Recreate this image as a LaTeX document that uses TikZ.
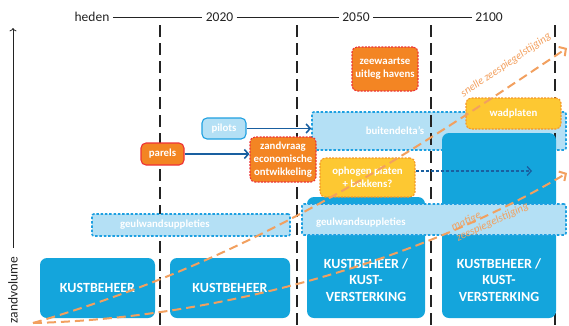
\documentclass[tikz,border=0pt]{standalone}
\usepackage{fontspec}
\setmainfont{Carlito}
\usetikzlibrary{arrows.meta}
\definecolor{kustblauw}{RGB}{20,165,220}
\definecolor{lichtblauw}{RGB}{180,224,245}
\definecolor{randblauw}{RGB}{30,160,225}
\definecolor{oranje}{RGB}{243,133,35}
\definecolor{rood}{RGB}{237,50,55}
\definecolor{geel}{RGB}{253,200,50}
\definecolor{geelrand}{RGB}{245,150,40}
\definecolor{zeeoranje}{RGB}{242,160,95}
\definecolor{donkerblauw}{RGB}{25,95,160}
\definecolor{lijngrijs}{RGB}{35,35,35}
\tikzset{
  jaartal/.style={font=\fontsize{13.5}{16}\selectfont, text=lijngrijs},
  tijdas/.style={draw=lijngrijs, line width=0.8pt},
  tijdgrens/.style={draw=lijngrijs, line width=1.2pt, dash pattern=on 12pt off 6pt},
  kustbox/.style={fill=kustblauw, rounded corners=7pt, text=white, font=\fontsize{14}{16.5}\selectfont\bfseries, align=center},
  kusttekst/.style={text=white, font=\fontsize{14}{16.5}\selectfont\bfseries, align=center},
  band/.style={fill=lichtblauw, draw=randblauw, line width=1.6pt, dash pattern=on 2.5pt off 1.8pt, rounded corners=2pt},
  bandtekst/.style={text=white, font=\fontsize{10.8}{13}\selectfont\bfseries},
  kleinbox/.style={rounded corners=5pt, line width=1.1pt, text=white, align=center, inner sep=2pt, font=\fontsize{10.8}{13}\selectfont\bfseries},
  oranjebox/.style={kleinbox, fill=oranje, draw=rood},
  geelbox/.style={kleinbox, fill=geel, draw=geelrand, dash pattern=on 2pt off 1.3pt},
  blauwbox/.style={kleinbox, fill=lichtblauw, draw=randblauw},
  gestippeld/.style={dash pattern=on 2pt off 1.3pt},
  pijl/.style={draw=donkerblauw, line width=1.6pt, -{Straight Barb[length=4pt,width=9pt]}},
  stijging/.style={draw=zeeoranje, line width=2pt, dash pattern=on 9pt off 5pt, -{Straight Barb[length=5pt,width=11pt]}},
  stijgtekst/.style={text=zeeoranje, font=\fontsize{11}{12}\selectfont\itshape}
}
\begin{document}
\begin{tikzpicture}[x=1pt, y=-1pt]
\useasboundingbox (0,0) rectangle (569,325);

\node[jaartal] (heden) at (92,17) {heden};
\node[jaartal] (j2020) at (219.5,17) {2020};
\node[jaartal] (j2050) at (356,17) {2050};
\node[jaartal] (j2100) at (489,17) {2100};
\draw[tijdas] (heden) -- (j2020);
\draw[tijdas] (j2020) -- (j2050);
\draw[tijdas] (j2050) -- (j2100);

\node[band, minimum width=254, minimum height=38] (bd) at (439,131) {};
\node[bandtekst] (bdtekst) at (395,131) {buitendelta's};

\foreach \x in {160,297,431,555}
  \draw[tijdgrens] (\x,25) -- (\x,325);

\node[rotate=90, jaartal] (zv) at (13,290) {zandvolume};
\coordinate (ytop) at (13,28);
\draw[tijdas, ->, shorten <=5pt] (zv.east) -- (ytop);

\node[kustbox, minimum width=115, minimum height=60] (kb1) at (97.5,288) {KUSTBEHEER};
\node[kustbox, minimum width=120, minimum height=60] (kb2) at (230,288) {KUSTBEHEER};
\node[band, minimum width=198, minimum height=22] (gw1) at (191,225) {};
\node[bandtekst, anchor=west] (gw1tekst) at (116.5,225) {geulwandsuppleties};

\node[kustbox, minimum width=118, minimum height=121] (kv3) at (366,257.5) {};
\node[kustbox, minimum width=114, minimum height=185] (kv4) at (499,225.5) {};
\node[band, minimum width=264, minimum height=31] (gw2) at (434,219.5) {};
\node[bandtekst, anchor=west] (gw2tekst) at (312.5,223) {geulwandsuppleties};
\node[kusttekst] (kv3tekst) at (366,280) {KUSTBEHEER /\\KUST-\\VERSTERKING};
\node[kusttekst] (kv4tekst) at (499,280) {KUSTBEHEER /\\KUST-\\VERSTERKING};

\node[blauwbox, minimum width=44, minimum height=21] (pilots) at (224,128.5) {pilots};
\node[oranjebox, minimum width=43, minimum height=22] (parels) at (162.5,154) {parels};
\node[oranjebox, gestippeld, minimum width=66, minimum height=45] (zandvraag) at (283,159.5) {zandvraag\\economische\\ontwikkeling};
\node[oranjebox, gestippeld, minimum width=66, minimum height=44] (havens) at (385,69) {zeewaartse\\uitleg havens};
\node[geelbox, minimum width=95, minimum height=31] (wadplaten) at (513.5,113.5) {wadplaten};
\node[geelbox, minimum width=95, minimum height=39] (ophogen) at (367.5,177.5) {ophogen platen\\+ bekkens?};

\draw[pijl] (pilots.east) -- (pilots.east -| bd.west);
\draw[pijl] (parels.east) -- (parels.east -| zandvraag.west);
\coordinate (opeind) at (532,171);
\draw[pijl, line width=1.3pt, dash pattern=on 3pt off 2pt] (ophogen.east |- opeind) -- (opeind);

\coordinate (nul) at (33,323);
\coordinate (snel) at (567,48);
\coordinate (matig) at (567,173);
\draw[stijging] (nul) .. controls (250,260) and (400,160) .. (snel);
\draw[stijging] (nul) .. controls (230,318) and (430,255) .. (matig);
\node[stijgtekst, rotate=34] (snellabel) at (506,65) {snelle zeespiegelstijging};
\node[stijgtekst, rotate=25, align=left] (matiglabel) at (490,217) {matige\\zeespiegelstijging};
\end{tikzpicture}
\end{document}
